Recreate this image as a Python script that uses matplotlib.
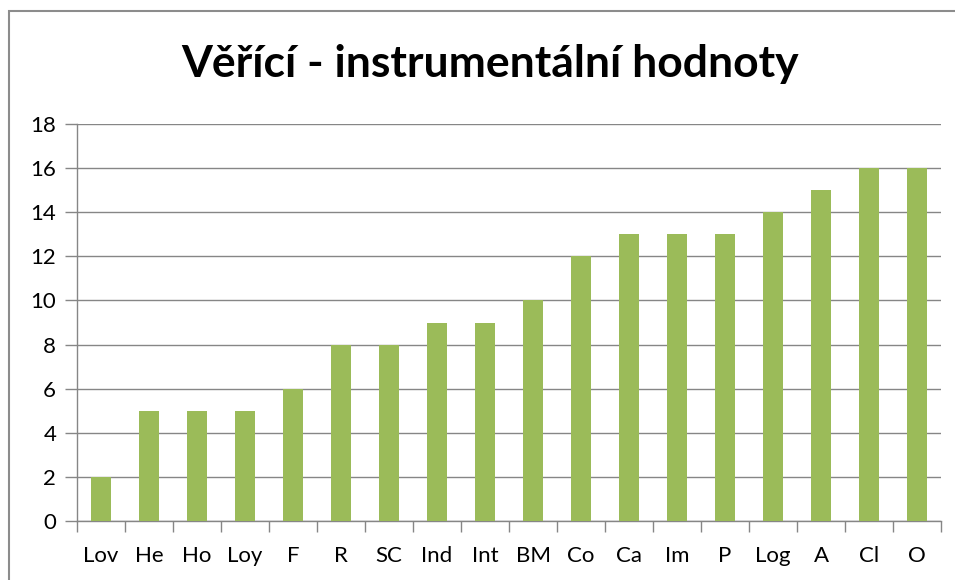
import matplotlib
matplotlib.use("Agg")
import matplotlib.pyplot as plt
from matplotlib.patches import Rectangle

categories = ["Lov", "He", "Ho", "Loy", "F", "R", "SC", "Ind", "Int", "BM",
              "Co", "Ca", "Im", "P", "Log", "A", "Cl", "O"]
values = [2, 5, 5, 5, 6, 8, 8, 9, 9, 10, 12, 13, 13, 13, 14, 15, 16, 16]
yticks = [0, 2, 4, 6, 8, 10, 12, 14, 16, 18]
title = "Věřící - instrumentální hodnoty"

plt.rcParams['font.family'] = ['Lato', 'DejaVu Sans']

fig = plt.figure(figsize=(9.55, 5.8), dpi=100)
W, H = 955, 580
# outer chart border
fig.patches.append(Rectangle((9 / W, -0.1), 1.2, (580 - 11) / H + 0.1, transform=fig.transFigure,
                             fill=False, edgecolor="#8c8c8c", linewidth=1.5))

left, right, top, bottom = 77, 941, 124, 521
ax = fig.add_axes([left / W, 1 - bottom / H, (right - left) / W, (bottom - top) / H])

x = list(range(len(categories)))
ax.bar(x, values, width=0.4, color="#9BBB59", zorder=3)
ax.set_xlim(-0.5, len(categories) - 0.5)
ax.set_ylim(0, 18)
ax.set_yticks(yticks)
ax.set_yticklabels([str(t) for t in yticks], fontsize=16)
ax.set_xticks(x)
ax.set_xticklabels(categories, fontsize=16)
ax.tick_params(axis='x', length=0, pad=18)
ax.set_xticks([i - 0.5 for i in range(len(categories) + 1)], minor=True)
ax.tick_params(axis='x', which='minor', length=8, color="#868686", width=1)
ax.tick_params(axis='y', length=9, color="#868686", width=1, pad=6)
ax.yaxis.grid(True, color="#868686", linewidth=1, zorder=0)
for s in ["top", "right"]:
    ax.spines[s].set_visible(False)
for s in ["left", "bottom"]:
    ax.spines[s].set_color("#868686")
    ax.spines[s].set_linewidth(1)

fig.text(490 / W, 1 - 64 / H, title, ha="center", va="center", fontsize=32, fontweight="bold")

fig.savefig("out.png", dpi=100)
